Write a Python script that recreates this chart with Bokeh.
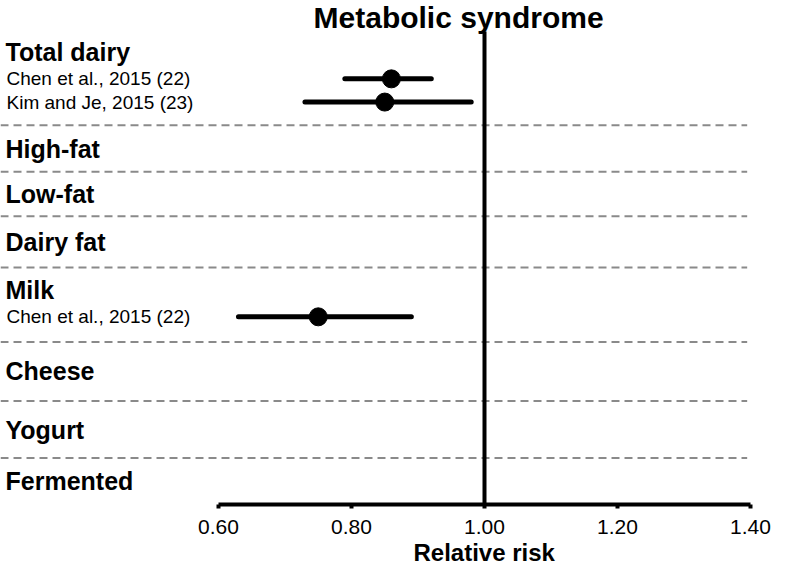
from bokeh.plotting import figure
from bokeh.models import Range1d, FixedTicker, PrintfTickFormatter, ColumnDataSource, Title
from bokeh.core.properties import value
from bokeh.embed import file_html
from bokeh.resources import INLINE

# ---------------- data ----------------
chart_title = "Metabolic syndrome"
categories = ["Total dairy", "High-fat", "Low-fat", "Dairy fat",
              "Milk", "Cheese", "Yogurt", "Fermented"]
study_category = ["Total dairy", "Total dairy", "Milk"]
study_labels = ["Chen et al., 2015 (22)", "Kim and Je, 2015 (23)", "Chen et al., 2015 (22)"]
rr = [0.86, 0.85, 0.75]
ci_low = [0.79, 0.73, 0.63]
ci_high = [0.92, 0.98, 0.89]
x_ticks = [0.60, 0.80, 1.00, 1.20, 1.40]
x_label = "Relative risk"
ref_value = 1.0

# ---------------- layout (row units) ----------------
BLOCK_HEIGHTS = [99, 48, 46, 53, 77, 61, 59, 48]
BLOCK_TOP = 30
HEADER_PAD = 23
FIRST_STUDY = 28
STUDY_STEP = 24
TITLE_Y = 17.5
TITLE_X = 0.961
REF_LINE_TOP = 32
Y_TOP = 0
SEP_END = 1.395

FONT = value("Liberation Sans")

y = BLOCK_TOP
header_y, sep_y = [], []
study_y = [0.0] * len(study_labels)
for cat, h in zip(categories, BLOCK_HEIGHTS):
    idx = [i for i, c in enumerate(study_category) if c == cat]
    if idx:
        hy = y + HEADER_PAD
        for k, i in enumerate(idx):
            study_y[i] = hy + FIRST_STUDY + k * STUDY_STEP
    else:
        hy = y + h / 2
    header_y.append(hy)
    y += h
    sep_y.append(y)
axis_y = sep_y.pop()

W, H = 773, 571
LEFT_PX, RIGHT_PX = 218, 750
px_per_unit = (RIGHT_PX - LEFT_PX) / (x_ticks[-1] - x_ticks[0])
X_START = x_ticks[0] - LEFT_PX / px_per_unit
X_END = x_ticks[-1] + (W - RIGHT_PX) / px_per_unit

p = figure(width=W, height=H, output_backend="svg", toolbar_location=None,
           x_range=Range1d(X_START, X_END), y_range=Range1d(axis_y, Y_TOP),
           y_axis_location=None, min_border_left=0, min_border_right=0,
           min_border_top=0, min_border_bottom=67)
p.outline_line_color = None
p.xgrid.visible = False
p.ygrid.visible = False
p.background_fill_color = "white"
p.border_fill_color = "white"

# separators
p.segment(x0=[X_START] * len(sep_y), y0=sep_y, x1=[SEP_END] * len(sep_y), y1=sep_y,
          line_color="#8a8a8a", line_width=2, line_dash="8 5")

# reference line
p.segment(x0=[ref_value], y0=[REF_LINE_TOP], x1=[ref_value], y1=[axis_y],
          line_color="black", line_width=4)

# CIs and points
src = ColumnDataSource(dict(rr=rr, lo=ci_low, hi=ci_high, y=study_y, label=study_labels))
p.segment(x0="lo", y0="y", x1="hi", y1="y", source=src,
          line_color="black", line_width=5, line_cap="round")
p.scatter(x="rr", y="y", source=src, size=18, fill_color="black", line_color="black")

# labels
p.text(x=[X_START] * len(categories), y=header_y, text=categories, x_offset=5,
       text_font=FONT, text_font_size=value("25px"), text_font_style="bold",
       text_color="black", text_baseline="middle", text_align="left")
p.text(x=[X_START] * len(study_labels), y=study_y, text=study_labels, x_offset=6,
       text_font=FONT, text_font_size=value("19px"), text_color="black",
       text_baseline="middle", text_align="left")

# title
p.text(x=[TITLE_X], y=[TITLE_Y], text=[chart_title], text_font=FONT,
       text_font_size=value("30px"), text_font_style="bold", text_color="black",
       text_baseline="middle", text_align="center")

# axis
ax = p.xaxis[0]
ax.ticker = FixedTicker(ticks=x_ticks)
ax.formatter = PrintfTickFormatter(format="%.2f")
ax.bounds = (x_ticks[0], x_ticks[-1])
ax.axis_line_width = 4
ax.axis_line_color = "black"
ax.major_tick_line_width = 4
ax.major_tick_line_color = "black"
ax.major_tick_out = 4
ax.major_tick_in = 0
ax.minor_tick_line_color = None
ax.major_label_text_font = "Liberation Sans"
ax.major_label_text_font_size = "21px"
ax.major_label_text_color = "black"
ax.major_label_standoff = 11

# axis title, centred under the axis bounds
label_center_px = LEFT_PX + (ref_value - x_ticks[0]) * px_per_unit
xt = Title(text=x_label, align="left", offset=label_center_px - 71, standoff=0,
           text_font="Liberation Sans", text_font_size="24px", text_font_style="bold",
           text_color="black")
p.add_layout(xt, "below")

open("out.html", "w").write(file_html(p, INLINE))
